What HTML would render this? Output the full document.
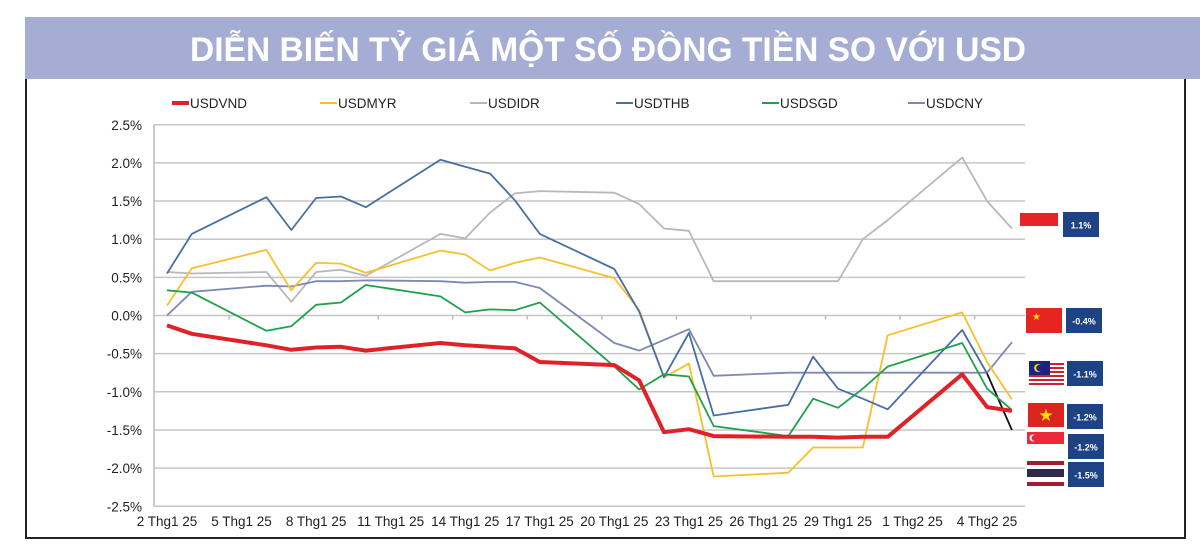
<!DOCTYPE html>
<html><head><meta charset="utf-8"><style>html,body{margin:0;padding:0;background:#fff}svg{display:block}</style></head>
<body>
<svg id="chart" width="1200" height="552" viewBox="0 0 1200 552" xmlns="http://www.w3.org/2000/svg" font-family="Liberation Sans, Arial, sans-serif">
<rect x="25" y="17" width="1175" height="62" fill="#a5add5"/>
<text x="608" y="61" text-anchor="middle" fill="#fff" font-weight="bold" font-size="34" textLength="836" lengthAdjust="spacingAndGlyphs">DIỄN BIẾN TỶ GIÁ MỘT SỐ ĐỒNG TIỀN SO VỚI USD</text>
<path d="M26 79 V538 H1185 V79" fill="none" stroke="#222" stroke-width="2"/>
<g id="grid"></g><g id="series"></g><g id="legend"></g><g id="flags"></g>
</svg>
<script>
const dayIdx=[0,1,4,5,6,7,8,11,12,13,14,15,18,19,20,21,22,25,26,27,28,29,32,33,34];
const usdvnd=[-0.13,-0.24,-0.39,-0.45,-0.42,-0.41,-0.46,-0.36,-0.39,-0.41,-0.43,-0.61,-0.65,-0.85,-1.53,-1.49,-1.58,-1.59,-1.59,-1.60,-1.59,-1.59,-0.77,-1.20,-1.25];
const usdmyr=[0.13,0.62,0.86,0.33,0.69,0.68,0.56,0.85,0.80,0.59,0.69,0.76,0.49,0.07,-0.81,-0.63,-2.11,-2.06,-1.73,-1.73,-1.73,-0.26,0.04,-0.61,-1.10];
const usdidr=[0.57,0.55,0.57,0.18,0.57,0.60,0.52,1.07,1.01,1.35,1.60,1.63,1.61,1.46,1.14,1.11,0.45,0.45,0.45,0.45,1.00,1.25,2.07,1.50,1.14];
const usdthb=[0.55,1.07,1.55,1.12,1.54,1.56,1.42,2.04,1.95,1.86,1.51,1.07,0.61,0.05,-0.81,-0.23,-1.31,-1.17,-0.54,-0.96,-1.09,-1.23,-0.19,-0.76,-1.50];
const usdsgd=[0.33,0.30,-0.20,-0.14,0.14,0.17,0.40,0.25,0.04,0.08,0.07,0.17,-0.67,-0.97,-0.77,-0.80,-1.45,-1.58,-1.09,-1.21,-0.96,-0.67,-0.36,-0.96,-1.24];
const usdcny=[0.00,0.31,0.39,0.38,0.45,0.45,0.46,0.45,0.43,0.44,0.44,0.36,-0.36,-0.46,-0.32,-0.18,-0.79,-0.75,-0.75,-0.75,-0.75,-0.75,-0.75,-0.75,-0.35];
const yTicks=[2.5,2.0,1.5,1.0,0.5,0.0,-0.5,-1.0,-1.5,-2.0,-2.5];
const xLabels=["2 Thg1 25","5 Thg1 25","8 Thg1 25","11 Thg1 25","14 Thg1 25","17 Thg1 25","20 Thg1 25","23 Thg1 25","26 Thg1 25","29 Thg1 25","1 Thg2 25","4 Thg2 25"];
const xLabelDays=[0,3,6,9,12,15,18,21,24,27,30,33];
const seriesNames=["USDVND","USDMYR","USDIDR","USDTHB","USDSGD","USDCNY"];
const endLabels=["1.1%","-0.4%","-1.1%","-1.2%","-1.2%","-1.5%"];

const NS="http://www.w3.org/2000/svg";
const X=d=>167+d*24.85;
const Y=v=>315.5-v*76.3;
function mk(tag,attrs,parent){const e=document.createElementNS(NS,tag);for(const k in attrs)e.setAttribute(k,attrs[k]);parent.appendChild(e);return e;}
const grid=document.getElementById('grid');
yTicks.forEach(t=>{
  const l=mk('line',{x1:154,x2:1025,y1:Y(t),y2:Y(t),stroke:'#c6c6c6','stroke-width':1.5},grid);
  
  
  const tx=mk('text',{x:142,y:Y(t)+5,'text-anchor':'end','font-size':13.5,fill:'#222'},grid);
  tx.textContent=t.toFixed(1)+'%';
  
  
});
const ax=mk('line',{x1:154,x2:154,y1:Y(2.5),y2:Y(-2.5),stroke:'#bbb','stroke-width':1.5},grid);


for(let i=0;i<11;i++){const tk=mk('line',{x1:X(i*3+2.5),x2:X(i*3+2.5),y1:Y(0),y2:Y(0)+4,stroke:'#bbb','stroke-width':1.5},grid);
  
  }
xLabels.forEach((s,i)=>{
  const tx=mk('text',{x:X(xLabelDays[i]),y:526,'text-anchor':'middle','font-size':13.5,fill:'#222'},grid);
  tx.textContent=s;
  
  
});
const colors=['#e02128','#f5c12c','#b8b8b8','#4a6ea3','#1fa14b','#7f88b3'];
const widths=[4,1.8,1.8,1.8,1.8,1.8];
const data=[usdvnd,usdmyr,usdidr,usdthb,usdsgd,usdcny];
const sg=document.getElementById('series');
[2,5,1,3,4,0].forEach(si=>{
  const vals=data[si];
  let pts=vals.map((v,i)=>X(dayIdx[i]).toFixed(1)+','+Y(v).toFixed(1));
  if(si===3)pts=pts.slice(0,-1);
  const p=mk('polyline',{points:pts.join(' '),fill:'none',stroke:colors[si],'stroke-width':widths[si],'stroke-linejoin':'round'},sg);
  
  
  if(si===3){const n=vals.length;
    const b=mk('line',{x1:X(dayIdx[n-2]),y1:Y(vals[n-2]),x2:X(dayIdx[n-1]),y2:Y(vals[n-1]),stroke:'#111','stroke-width':1.8},sg);
    
    }
});
const lg=document.getElementById('legend');
const lx=[172,320,470,616,762,908];
seriesNames.forEach((n,i)=>{
  const g=mk('g',{},lg);
  
  
  mk('line',{x1:lx[i],x2:lx[i]+17,y1:103,y2:103,stroke:colors[i],'stroke-width':i===0?4:2},g);
  const t=mk('text',{x:lx[i]+18,y:108,'font-size':13.5,fill:'#222'},g);t.textContent=n;
});
const fg=document.getElementById('flags');
const boxes=[[1063,212],[1066,308],[1067,361],[1067,404],[1068,434],[1068,462]];
endLabels.forEach((s,i)=>{
  const r=mk('rect',{x:boxes[i][0],y:boxes[i][1],width:36,height:25,fill:'#1e4384'},fg);
  
  
  const t=mk('text',{x:boxes[i][0]+18,y:boxes[i][1]+16.5,'text-anchor':'middle','font-size':9,'font-weight':'bold',fill:'#fff'},fg);
  t.textContent=s;
  
  
});
fg.insertAdjacentHTML('beforeend',`
<rect x="1020" y="213" width="38" height="13" fill="#e8222b"/>
<g><rect x="1026" y="308" width="36" height="25" fill="#e62420"/><text x="1032" y="320" font-size="10" fill="#ffde00">★</text></g>
<g><rect x="1029" y="361" width="35" height="24" fill="#fff"/>
<rect x="1029" y="363" width="35" height="2" fill="#cc2233"/><rect x="1029" y="367" width="35" height="2" fill="#cc2233"/><rect x="1029" y="371" width="35" height="2" fill="#cc2233"/><rect x="1029" y="375" width="35" height="2" fill="#cc2233"/><rect x="1029" y="379" width="35" height="2" fill="#cc2233"/><rect x="1029" y="383" width="35" height="2" fill="#cc2233"/>
<rect x="1029" y="361" width="21" height="14" fill="#1a237e"/><circle cx="1038" cy="368" r="4" fill="#f5c518"/><circle cx="1039.5" cy="368" r="3.2" fill="#1a237e"/></g>
<g><rect x="1028" y="403" width="36" height="24" fill="#da251d"/><text x="1046" y="421" text-anchor="middle" font-size="17" fill="#ffde00">★</text></g>
<g><rect x="1027" y="432" width="37" height="12" fill="#ed2939"/><circle cx="1033" cy="438" r="3.5" fill="#fff"/><circle cx="1034.5" cy="438" r="3" fill="#ed2939"/></g>
<g><rect x="1027" y="461" width="37" height="25" fill="#fff"/><rect x="1027" y="461" width="37" height="4" fill="#a51931"/><rect x="1027" y="469" width="37" height="8" fill="#2d2a4a"/><rect x="1027" y="482" width="37" height="4" fill="#a51931"/></g>`);
</script>
</body></html>
